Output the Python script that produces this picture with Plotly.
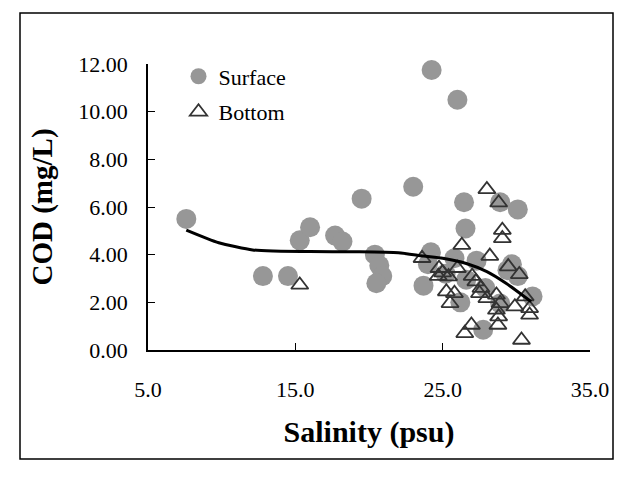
import plotly.graph_objects as go

# Surface samples (salinity psu, COD mg/L)
surface_x = [7.6, 12.8, 14.5, 15.3, 16.0, 17.7, 18.2, 19.5, 20.4, 20.7, 20.9, 20.5,
             23.0, 24.25, 26.0, 26.45, 26.55, 28.9, 30.1, 24.2, 24.0, 23.7, 25.8,
             27.3, 26.6, 26.2, 28.9, 29.7, 30.1, 31.1, 27.75, 29.4, 25.2, 27.9]
surface_y = [5.5, 3.1, 3.1, 4.6, 5.15, 4.8, 4.55, 6.35, 4.0, 3.55, 3.1, 2.8,
             6.85, 11.75, 10.5, 6.2, 5.1, 6.2, 5.9, 4.1, 3.6, 2.7, 3.85,
             3.75, 2.95, 2.0, 1.95, 3.6, 3.1, 2.25, 0.85, 3.35, 3.2, 2.6]

# Bottom samples
bottom_x = [15.3, 28.0, 28.8, 29.05, 29.05, 26.3, 28.2, 23.6, 29.45, 30.2, 24.75,
            24.7, 25.4, 26.0, 27.0, 27.25, 25.25, 25.8, 25.5, 27.5, 28.0, 28.65,
            28.9, 28.65, 29.9, 30.9, 30.9, 30.6, 28.8, 26.95, 26.5, 30.35, 25.0,
            27.6, 28.75]
bottom_y = [2.73, 6.74, 6.18, 5.03, 4.68, 4.4, 3.94, 3.85, 3.5, 3.17, 3.43,
            3.1, 3.08, 3.43, 3.1, 2.87, 2.45, 2.38, 1.96, 2.38, 2.17, 2.31,
            1.96, 1.68, 1.82, 1.75, 1.47, 2.24, 1.4, 1.05, 0.7, 0.42, 3.25,
            2.6, 1.05]

# Trend line
fit_x = [7.6, 9.8, 12.1, 13.5, 16.0, 19.0, 22.0, 23.7, 25.0, 26.6, 28.0, 29.3, 31.0]
fit_y = [5.03, 4.5, 4.2, 4.15, 4.13, 4.12, 4.08, 3.94, 3.85, 3.63, 3.29, 2.8, 2.03]

x_ticks = [5, 15, 25, 35]
y_ticks = [0, 2, 4, 6, 8, 10, 12]

SERIF = "Liberation Serif, Times New Roman, serif"

fig = go.Figure()
fig.add_trace(go.Scatter(
    x=surface_x, y=surface_y, mode="markers", name="Surface", legendgroup="s",
    marker=dict(symbol="circle", size=20, color="#979797", line=dict(width=0)),
    cliponaxis=False))
fig.add_trace(go.Scatter(
    x=bottom_x, y=bottom_y, mode="markers", name="Bottom", legendgroup="b",
    marker=dict(symbol="triangle-up-open", size=15, color="#333333",
                line=dict(width=1.8, color="#333333")),
    cliponaxis=False))
fig.add_trace(go.Scatter(
    x=fit_x, y=fit_y, mode="lines", showlegend=False,
    line=dict(color="black", width=3, shape="spline", smoothing=0.6)))

OFF = 8  # page body margin
W, H = 631 - OFF, 477 - OFF
L, R, T, B = 148 - OFF, 41, 64 - OFF, 127
pw, ph = W - L - R, H - T - B

fig.add_shape(type="rect", xref="paper", yref="paper",
              x0=(20 - OFF - L) / pw, x1=(613 - OFF - L) / pw,
              y0=(H - B - (459 - OFF)) / ph, y1=(H - B - (13 - OFF)) / ph,
              line=dict(color="black", width=1.5), fillcolor="rgba(0,0,0,0)")

fig.update_layout(
    width=W, height=H,
    margin=dict(l=L, r=R, t=T, b=B, autoexpand=False),
    paper_bgcolor="white", plot_bgcolor="white",
    font=dict(family=SERIF, size=22, color="black"),
    showlegend=True,
    legend=dict(x=0.069, y=1.03, xanchor="left", yanchor="top",
                bgcolor="rgba(0,0,0,0)", font=dict(family=SERIF, size=22),
                tracegroupgap=4, itemwidth=30),
    xaxis=dict(range=[5, 35], tickvals=x_ticks, tickformat=".1f",
               showgrid=False, zeroline=False, showline=True, linecolor="black",
               linewidth=1.5, ticks="inside", ticklen=7, tickcolor="black",
               ticklabelstandoff=19,
               title=dict(text="<b>Salinity (psu)</b>", standoff=20,
                          font=dict(family=SERIF, size=30))),
    yaxis=dict(range=[0, 12], tickvals=y_ticks, tickformat=".2f",
               showgrid=False, zeroline=False, showline=True, linecolor="black",
               linewidth=1.5, ticks="inside", ticklen=7, tickcolor="black",
               ticklabelstandoff=14,
               title=dict(text="<b>COD (mg/L)</b>", standoff=17,
                          font=dict(family=SERIF, size=29))),
)

fig.write_html("out.html")
